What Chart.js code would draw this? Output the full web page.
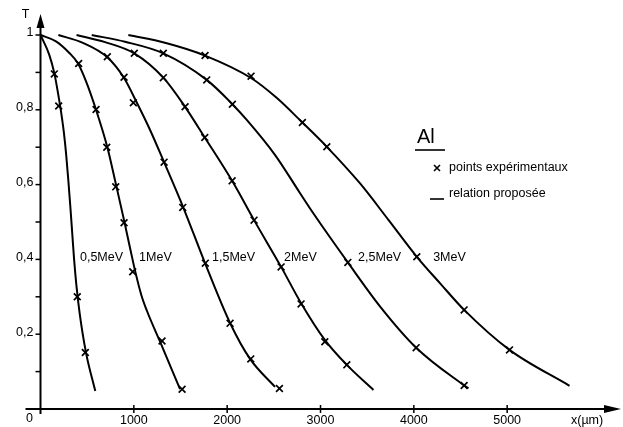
<!DOCTYPE html>
<html>
<head>
<meta charset="utf-8">
<script src="https://cdn.jsdelivr.net/npm/chart.js@4"></script>
<style>
    html, body { margin: 0; padding: 0; background: #fff; }
    #wrap { position: relative; width: 623px; height: 427px; }
</style>
</head>
<body>
<div id="wrap"><canvas id="chart" width="623" height="427"></canvas></div>
<script>
// Transmission T of electrons through Al versus thickness x (µm)
const energyLabels = ["0,5MeV", "1MeV", "1,5MeV", "2MeV", "2,5MeV", "3MeV"];

// "relation proposée" curves, [x (µm), T]
const curve05 = [[0, 1], [94, 0.947], [148, 0.898], [184, 0.85], [220, 0.795], [250, 0.74], [275, 0.68], [298, 0.612], [320, 0.54], [340, 0.47], [360, 0.4], [385, 0.33], [420, 0.255], [488, 0.15], [587, 0.048]];
const curve10 = [[0, 1], [166, 0.983], [309, 0.952], [399, 0.925], [488, 0.876], [595, 0.8], [716, 0.7], [809, 0.6], [895, 0.505], [960, 0.43], [1013, 0.37], [1080, 0.305], [1141, 0.262], [1281, 0.18], [1495, 0.053]];
const curve15 = [[191, 1], [455, 0.979], [713, 0.941], [895, 0.885], [1034, 0.818], [1174, 0.746], [1324, 0.66], [1528, 0.54], [1763, 0.39], [2031, 0.23], [2245, 0.134], [2513, 0.059]];
const curve20 = [[386, 1], [691, 0.981], [1005, 0.951], [1316, 0.886], [1549, 0.808], [1760, 0.726], [2053, 0.61], [2288, 0.505], [2578, 0.38], [2792, 0.283], [3046, 0.185], [3282, 0.118], [3567, 0.051]];
const curve25 = [[549, 1], [906, 0.982], [1316, 0.951], [1781, 0.88], [2056, 0.815], [2210, 0.773], [2514, 0.679], [2781, 0.577], [2921, 0.524], [3293, 0.392], [3639, 0.274], [4025, 0.164], [4539, 0.063], [4585, 0.055]];
const curve30 = [[941, 1], [1353, 0.978], [1763, 0.945], [2256, 0.885], [2530, 0.832], [2806, 0.766], [3068, 0.701], [3424, 0.603], [3730, 0.505], [4032, 0.407], [4282, 0.336], [4539, 0.265], [5025, 0.158], [5668, 0.062]];

// "points expérimentaux", [x (µm), T]
const points05 = [[148, 0.896], [195, 0.81], [394, 0.3], [480, 0.151]];
const points10 = [[409, 0.924], [595, 0.801], [710, 0.7], [806, 0.594], [895, 0.498], [988, 0.367], [1302, 0.182], [1517, 0.053]];
const points15 = [[716, 0.942], [895, 0.887], [995, 0.819], [1324, 0.66], [1524, 0.539], [1766, 0.39], [2031, 0.229], [2253, 0.134], [2560, 0.055]];
const points20 = [[1005, 0.951], [1316, 0.886], [1549, 0.808], [1760, 0.726], [2053, 0.61], [2288, 0.505], [2578, 0.38], [2792, 0.281], [3046, 0.18], [3282, 0.118]];
const points25 = [[1316, 0.951], [1781, 0.88], [2056, 0.815], [3293, 0.392], [4025, 0.164], [4539, 0.063]];
const points30 = [[1763, 0.945], [2256, 0.89], [2806, 0.766], [3068, 0.701], [4032, 0.407], [4539, 0.265], [5025, 0.158]];

// axis ticks
const xTicks = [1000, 2000, 3000, 4000, 5000];
const yTicks = [0.2, 0.4, 0.6, 0.8, 1];
const yTickLabels = ["0,2", "0,4", "0,6", "0,8", "1"];
const yMinorTicks = [0.1, 0.3, 0.5, 0.7, 0.9];

const curves = [curve05, curve10, curve15, curve20, curve25, curve30];
const points = [points05, points10, points15, points20, points25, points30];

// where the energy labels sit (x in µm, along T = 0.4)
const labelX = [423, 1056, 1838, 2610, 3403, 4207];

const FONT = '"Liberation Sans", Arial, sans-serif';
const INK = "#000";

const toXY = (arr) => arr.map(([x, t]) => ({ x: x, y: t }));

const datasets = [];
curves.forEach((c, i) => {
    datasets.push({
        label: energyLabels[i],
        data: toXY(c),
        showLine: true,
        borderColor: INK,
        borderWidth: 2,
        pointRadius: 0,
        cubicInterpolationMode: "monotone",
    });
});
points.forEach((p, i) => {
    datasets.push({
        label: energyLabels[i] + " exp",
        data: toXY(p),
        showLine: false,
        pointStyle: "crossRot",
        pointRadius: 4.8,
        borderColor: INK,
        borderWidth: 1.7,
    });
});

/**
 * Hand drawn look: axes with arrows, ticks, labels and the "Al" legend
 */
const annotations = {
    id: "annotations",
    afterDraw(chart) {
        const { ctx, scales } = chart;
        const xs = scales.x;
        const ys = scales.y;
        const x0 = xs.getPixelForValue(0);
        const y0 = ys.getPixelForValue(0);

        ctx.save();
        ctx.strokeStyle = INK;
        ctx.fillStyle = INK;
        ctx.lineWidth = 2;

        // x axis + arrow
        ctx.beginPath();
        ctx.moveTo(x0 - 15, y0);
        ctx.lineTo(608, y0);
        ctx.stroke();
        ctx.beginPath();
        ctx.moveTo(621, y0);
        ctx.lineTo(604, y0 - 4);
        ctx.lineTo(604, y0 + 4);
        ctx.closePath();
        ctx.fill();

        // y axis + arrow
        ctx.beginPath();
        ctx.moveTo(x0, y0 + 5);
        ctx.lineTo(x0, 24);
        ctx.stroke();
        ctx.beginPath();
        ctx.moveTo(x0, 14);
        ctx.lineTo(x0 - 4, 28);
        ctx.lineTo(x0 + 4, 28);
        ctx.closePath();
        ctx.fill();

        // ticks
        ctx.lineWidth = 1.5;
        xTicks.forEach((v) => {
            const px = xs.getPixelForValue(v);
            ctx.beginPath();
            ctx.moveTo(px, y0 - 4);
            ctx.lineTo(px, y0 + 4);
            ctx.stroke();
        });
        yTicks.concat(yMinorTicks).forEach((v) => {
            const py = ys.getPixelForValue(v);
            ctx.beginPath();
            ctx.moveTo(x0 - 5, py);
            ctx.lineTo(x0, py);
            ctx.stroke();
        });

        // tick labels
        ctx.font = "12.5px " + FONT;
        ctx.textBaseline = "middle";
        ctx.textAlign = "center";
        xTicks.forEach((v) => {
            ctx.fillText(String(v), xs.getPixelForValue(v), y0 + 12);
        });
        ctx.fillText("0", x0 - 11, y0 + 10);
        ctx.textAlign = "right";
        yTicks.forEach((v, i) => {
            ctx.fillText(yTickLabels[i], x0 - 7, ys.getPixelForValue(v) - 2);
        });
        ctx.textAlign = "center";
        ctx.fillText("T", x0 - 15, 15);
        ctx.textAlign = "left";
        ctx.fillText("x(µm)", 571, y0 + 12);

        // energy labels
        ctx.textAlign = "left";
        energyLabels.forEach((lab, i) => {
            ctx.fillText(lab, xs.getPixelForValue(labelX[i]), ys.getPixelForValue(0.4) - 2);
        });

        // legend block
        ctx.font = "20px " + FONT;
        ctx.textBaseline = "alphabetic";
        ctx.fillText("Al", 417, 143);
        ctx.lineWidth = 1.6;
        ctx.beginPath();
        ctx.moveTo(415, 150);
        ctx.lineTo(445, 150);
        ctx.stroke();

        ctx.font = "12.5px " + FONT;
        ctx.textBaseline = "middle";
        ctx.lineWidth = 1.6;
        ctx.beginPath();
        ctx.moveTo(434, 165);
        ctx.lineTo(440, 171);
        ctx.moveTo(440, 165);
        ctx.lineTo(434, 171);
        ctx.stroke();
        ctx.fillText("points expérimentaux", 449, 168);

        ctx.beginPath();
        ctx.moveTo(430, 199);
        ctx.lineTo(444, 199);
        ctx.stroke();
        ctx.fillText("relation proposée", 449, 194);

        ctx.restore();
    },
};

const drawChart = () => {
    const element = document.getElementById("chart");
    return new Chart(element, {
        type: "scatter",
        data: { datasets: datasets },
        options: {
            responsive: false,
            animation: false,
            layout: { padding: { left: 40.5, right: 22.5, top: 16.3, bottom: 18 } },
            scales: {
                x: { type: "linear", min: 0, max: 6000, display: false },
                y: { type: "linear", min: 0, max: 1.05, display: false },
            },
            plugins: {
                legend: { display: false },
                tooltip: { enabled: false },
            },
        },
        plugins: [annotations],
    });
};

drawChart();
</script>
</body>
</html>
